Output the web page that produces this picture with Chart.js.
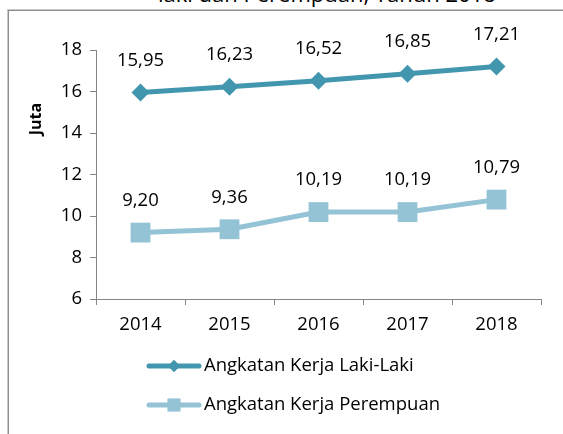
<!DOCTYPE html>
<html>
<head>
<meta charset="utf-8">
<script src="https://cdn.jsdelivr.net/npm/chart.js@4/dist/chart.umd.min.js"></script>
<style>
    body { margin: 0; background: #fff; overflow: hidden; }
    #wrap { position: relative; width: 563px; height: 434px; overflow: hidden; }
    #frame {
        position: absolute; left: 8px; top: 10px; width: 700px; height: 600px;
        border: 1px solid #8c8c8c; box-shadow: 0 0 0 1px #c8c8c8;
    }
    #title {
        position: absolute; left: 158px; top: -22px; white-space: nowrap;
        font-family: 'Open Sans', sans-serif; font-size: 22px; color: #000;
    }
    canvas { position: absolute; left: 0; top: 0; }
</style>
</head>
<body>
<div id="wrap">
    <div id="frame"></div>
    <div id="title">laki dan Perempuan, Tahun 2018</div>
    <canvas id="chart" width="563" height="434"></canvas>
</div>
<script>
// chart data
const years = ['2014', '2015', '2016', '2017', '2018'];
const lakiLaki = [15.95, 16.23, 16.52, 16.85, 17.21];
const perempuan = [9.20, 9.36, 10.19, 10.19, 10.79];
const seriesNames = ['Angkatan Kerja Laki-Laki', 'Angkatan Kerja Perempuan'];
const yTicks = [6, 8, 10, 12, 14, 16, 18];

const darkBlue = '#4297af';
const lightBlue = '#93c3d5';
const fontName = "'Open Sans', sans-serif";

// value labels above every point, comma decimals
const valueLabels = {
    id: 'valueLabels',
    afterDatasetsDraw(chart) {
        const ctx = chart.ctx;
        ctx.save();
        ctx.font = '18.5px ' + fontName;
        ctx.fillStyle = '#000';
        ctx.textAlign = 'center';
        ctx.textBaseline = 'middle';
        chart.data.datasets.forEach((ds, i) => {
            chart.getDatasetMeta(i).data.forEach((pt, j) => {
                const txt = ds.data[j].toFixed(2).replace('.', ',');
                ctx.fillText(txt, pt.x, pt.y - 32);
            });
        });
        ctx.restore();
    }
};

// legend with line + marker, and the y title
const extras = {
    id: 'extras',
    afterDraw(chart) {
        const ctx = chart.ctx;
        ctx.save();
        const rows = [
            { y: 366, color: darkBlue, style: 'rectRot', r: 6 },
            { y: 405, color: lightBlue, style: 'rect', r: 9 }
        ];
        rows.forEach((row, i) => {
            ctx.strokeStyle = row.color;
            ctx.lineWidth = 5;
            ctx.lineCap = 'round';
            ctx.beginPath();
            ctx.moveTo(149, row.y);
            ctx.lineTo(199, row.y);
            ctx.stroke();
            ctx.fillStyle = row.color;
            Chart.helpers.drawPoint(ctx, { pointStyle: row.style, radius: row.r, rotation: 0, borderWidth: 0 }, 174, row.y);
            ctx.fill();
            ctx.fillStyle = '#000';
            ctx.font = '18.5px ' + fontName;
            ctx.textAlign = 'left';
            ctx.textBaseline = 'middle';
            ctx.fillText(seriesNames[i], 204, row.y);
        });

        ctx.translate(36, 119);
        ctx.rotate(-Math.PI / 2);
        ctx.font = 'bold 16px ' + fontName;
        ctx.textAlign = 'center';
        ctx.textBaseline = 'middle';
        ctx.fillText('Juta', 0, 0);
        ctx.restore();
    }
};

new Chart(document.getElementById('chart'), {
    type: 'line',
    data: {
        labels: years,
        datasets: [{
            label: seriesNames[0],
            data: lakiLaki,
            borderColor: darkBlue,
            backgroundColor: darkBlue,
            borderWidth: 5,
            pointStyle: 'rectRot',
            pointRadius: 9,
            pointHoverRadius: 9,
            pointBorderWidth: 0,
            tension: 0
        }, {
            label: seriesNames[1],
            data: perempuan,
            borderColor: lightBlue,
            backgroundColor: lightBlue,
            borderWidth: 5,
            pointStyle: 'rect',
            pointRadius: 14,
            pointHoverRadius: 14,
            pointBorderWidth: 0,
            tension: 0
        }]
    },
    options: {
        responsive: false,
        animation: false,
        layout: { padding: { left: 0, right: 22, top: 50, bottom: 0 } },
        plugins: {
            legend: { display: false },
            tooltip: { enabled: false },
            title: { display: false }
        },
        scales: {
            x: {
                offset: true,
                grid: { offset: true, drawOnChartArea: false, color: '#868686', tickLength: 6 },
                border: { color: '#868686', width: 1 },
                ticks: { color: '#000', font: { family: fontName, size: 18.5 }, padding: 9 },
                afterFit(scale) { scale.height = 135; }
            },
            y: {
                min: 6,
                max: 18,
                afterBuildTicks(scale) { scale.ticks = yTicks.map(v => ({ value: v })); },
                grid: { drawOnChartArea: false, color: '#868686', tickLength: 6 },
                border: { color: '#868686', width: 1 },
                ticks: { color: '#000', font: { family: fontName, size: 18.5 }, padding: 8 },
                afterFit(scale) { scale.width = 96; }
            }
        }
    },
    plugins: [valueLabels, extras]
});
</script>
</body>
</html>
